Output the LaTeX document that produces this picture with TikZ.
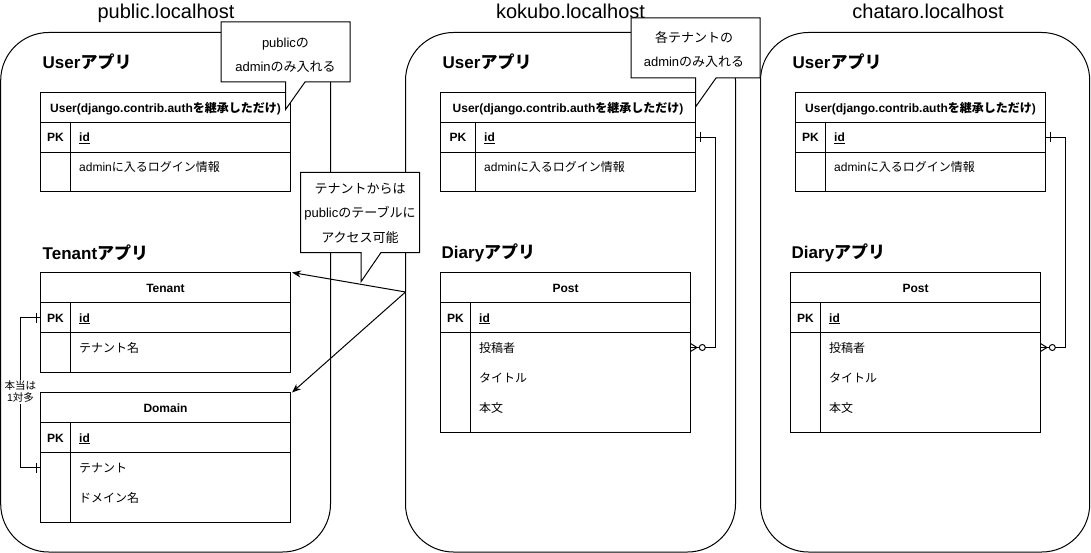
\documentclass[tikz,border=0pt]{standalone}
\usepackage{fontspec}
\setmainfont{Liberation Sans}
\newfontfamily\jp{Noto Sans CJK JP}
\usetikzlibrary{arrows.meta}
\newcommand\fsz[1]{\fontsize{#1}{#1}\selectfont}
\tikzset{
 container/.style={draw, line width=1pt, rounded corners=48pt},
 ttl/.style={inner sep=0, anchor=base, font=\fsz{20}},
 apph/.style={inner sep=0, anchor=base west, font=\bfseries\fsz{17}},
 cell/.style={draw, line width=1pt, inner sep=0, outer sep=0, anchor=north west, minimum height=30pt},
 hdr/.style={cell, font=\bfseries\fsz{12}, text height=9.8pt, text depth=0.6pt},
 fld/.style={inner sep=0, anchor=west, font=\fsz{12}, text height=9.6pt, text depth=0.6pt},
 pkl/.style={fld, anchor=center, font=\bfseries\fsz{12}},
 link/.style={draw, line width=1pt},
 arr/.style={link, -{Stealth[length=9pt,width=7pt]}},
 note/.style={draw, line width=1pt, fill=white, line join=miter},
 notetxt/.style={inner sep=0, font=\fsz{13}, text height=9.3pt, text depth=2.6pt},
 lbl/.style={fill=white, inner sep=1pt, align=center, font=\fontsize{10.5}{12}\selectfont},
}
% #1 name, #2 x, #3 y, #4 width, #5 pk width, #6 attr height, #7 title
\newcommand\ertable[7]{%
 \node[hdr, minimum width=#4pt] (#1-h) at (#2,#3) {#7};
 \node[cell, minimum width=#4pt] (#1-pk) at ({#2},{#3+30}) {};
 \node[cell, minimum width=#4pt, minimum height=#6pt] (#1-a) at ({#2},{#3+60}) {};
 \draw[link] ({#2+#5},{#3+30}) -- ({#2+#5},{#3+60+#6});
 \node[pkl] (#1-pkt) at ({#2+#5/2},{#3+45}) {PK};
 \node[fld] (#1-id) at ({#2+#5+8.5},{#3+45}) {\bfseries\underline{id}};
}
\begin{document}
\begin{tikzpicture}[x=1pt,y=-1pt]
\useasboundingbox (0,0) rectangle (1091,553);
\fill[white] (0,0) rectangle (1091,553);

% containers
\draw[container] (0.7,32.5) rectangle (330.5,552);
\draw[container] (405.5,32.5) rectangle (735.5,552);
\draw[container] (760.5,32.5) rectangle (1089.7,552);

% titles
\node[ttl] (t1) at (166,19) {public.localhost};
\node[ttl] (t2) at (570.5,19) {kokubo.localhost};
\node[ttl] (t3) at (928,19) {chataro.localhost};

% app headers
\node[apph] (a1) at (42.5,68.5) {User{\jp アプリ}};
\node[apph] (a2) at (42.5,259) {Tenant{\jp アプリ}};
\node[apph] (a3) at (442.5,68.5) {User{\jp アプリ}};
\node[apph] (a4) at (441.5,258.5) {Diary{\jp アプリ}};
\node[apph] (a5) at (792.5,68.5) {User{\jp アプリ}};
\node[apph] (a6) at (791.5,258.5) {Diary{\jp アプリ}};

% tables
\ertable{pU}{40.5}{92.5}{250}{30}{39.5}{User(django.contrib.auth{\jp を継承しただけ})}
\node[fld] (pU-f1) at (79,167.5) {admin{\jp に入るログイン情報}};

\ertable{T}{40.5}{272.5}{250}{30}{40}{Tenant}
\node[fld] (T-f1) at (79,347.5) {\jp テナント名};

\ertable{D}{40.5}{392.5}{250}{30}{70}{Domain}
\node[fld] (D-f1) at (79,467.5) {\jp テナント};
\node[fld] (D-f2) at (79,497.5) {\jp ドメイン名};

\ertable{mU}{440.5}{92.5}{255}{35}{39.5}{User(django.contrib.auth{\jp を継承しただけ})}
\node[fld] (mU-f1) at (484,167.5) {admin{\jp に入るログイン情報}};

\ertable{mP}{440.5}{272.5}{250}{30}{100}{Post}
\node[fld] (mP-f1) at (479,347.5) {\jp 投稿者};
\node[fld] (mP-f2) at (479,377.5) {\jp タイトル};
\node[fld] (mP-f3) at (479,407.5) {\jp 本文};

\ertable{rU}{795.5}{92.5}{250}{30}{39.5}{User(django.contrib.auth{\jp を継承しただけ})}
\node[fld] (rU-f1) at (834,167.5) {admin{\jp に入るログイン情報}};

\ertable{rP}{790.5}{272.5}{250}{30}{100}{Post}
\node[fld] (rP-f1) at (829,347.5) {\jp 投稿者};
\node[fld] (rP-f2) at (829,377.5) {\jp タイトル};
\node[fld] (rP-f3) at (829,407.5) {\jp 本文};

% left relation Tenant -- Domain
\coordinate (D-c) at ([yshift=-15pt]D-a.north west);
\coordinate (lbend) at (20.5,317.5);
\draw[link] (T-pk.west) -- (lbend) |- (D-c);
\draw[link] ([xshift=-4.5pt,yshift=5pt]T-pk.west) -- ([xshift=-4.5pt,yshift=-5pt]T-pk.west);
\draw[link] ([xshift=-4.5pt,yshift=5pt]D-c) -- ([xshift=-4.5pt,yshift=-5pt]D-c);
\node[lbl] (rel) at (20.5,392) {{\jp 本当は}\\1{\jp 対多}};

% middle relation User -- Post
\coordinate (mP-c) at ([yshift=-15pt]mP-a.north east);
\coordinate (mbend) at (715,137.5);
\draw[link] (mU-pk.east) -- (mbend) |- (mP-c);
\draw[link] ([xshift=4.5pt,yshift=5pt]mU-pk.east) -- ([xshift=4.5pt,yshift=-5pt]mU-pk.east);
\draw[link] ([yshift=4pt]mP-c) -- ([xshift=6.5pt]mP-c) -- ([yshift=-4pt]mP-c);
\draw[link, fill=white] ([xshift=11.8pt]mP-c) circle (3pt);

% right relation User -- Post
\coordinate (rP-c) at ([yshift=-15pt]rP-a.north east);
\coordinate (rbend) at (1065,137.5);
\draw[link] (rU-pk.east) -- (rbend) |- (rP-c);
\draw[link] ([xshift=4.5pt,yshift=5pt]rU-pk.east) -- ([xshift=4.5pt,yshift=-5pt]rU-pk.east);
\draw[link] ([yshift=4pt]rP-c) -- ([xshift=6.5pt]rP-c) -- ([yshift=-4pt]rP-c);
\draw[link, fill=white] ([xshift=11.8pt]rP-c) circle (3pt);

% access arrows
\coordinate (acc) at (405.5,292);
\draw[arr] (acc) -- ([xshift=1.5pt]T-h.north east);
\draw[arr] (acc) -- ([xshift=1.5pt]D-h.north east);

% callouts
\draw[note] (221,22) -- (350,22) -- (350,82) -- (305,82) -- (285.7,109.3) -- (285.7,82) -- (221,82) -- cycle;
\node[notetxt] (n1a) at (285.5,44) {public{\jp の}};
\node[notetxt] (n1b) at (285.5,68) {admin{\jp のみ入れる}};

\draw[note] (300.5,172.5) -- (419.5,172.5) -- (419.5,252.5) -- (381,252.5) -- (361,281.7) -- (361,252.5) -- (300.5,252.5) -- cycle;
\node[notetxt] (n2a) at (360,190) {\jp テナントからは};
\node[notetxt] (n2b) at (360,214.5) {public{\jp のテーブルに}};
\node[notetxt] (n2c) at (360,239) {\jp アクセス可能};

\draw[note] (631,18) -- (760,18) -- (760,78) -- (716,78) -- (695.7,106.7) -- (695.7,78) -- (631,78) -- cycle;
\node[notetxt] (n3a) at (694,39.5) {\jp 各テナントの};
\node[notetxt] (n3b) at (694,63) {admin{\jp のみ入れる}};
\end{tikzpicture}
\end{document}
